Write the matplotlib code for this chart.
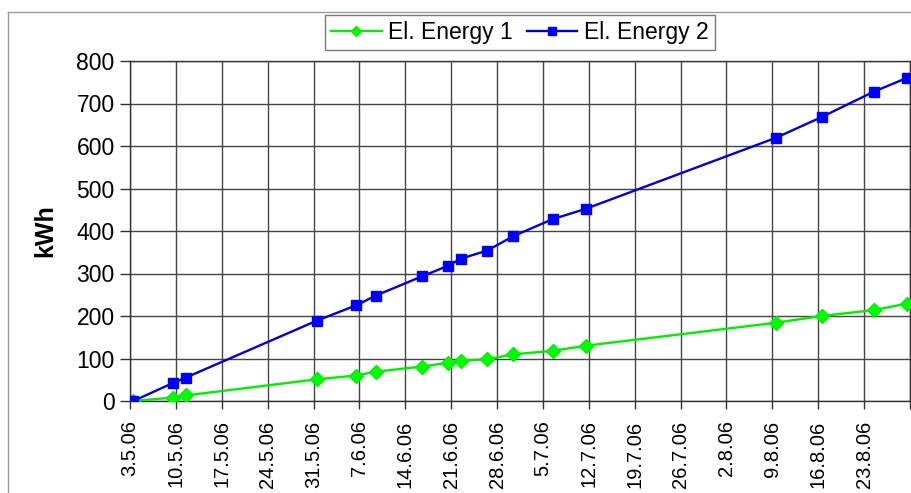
import pandas as pd
import matplotlib
matplotlib.use("Agg")
import matplotlib.pyplot as plt
import matplotlib.dates as mdates
from matplotlib.lines import Line2D
from matplotlib.ticker import FuncFormatter

plt.rcParams['font.family'] = ['Liberation Sans', 'DejaVu Sans']

# reading dates (d.m.yy)
dates = ["3.5.06", "9.5.06", "11.5.06", "31.5.06", "6.6.06", "9.6.06",
         "16.6.06", "20.6.06", "22.6.06", "26.6.06", "30.6.06", "6.7.06",
         "11.7.06", "9.8.06", "16.8.06", "24.8.06", "29.8.06"]
energy_1 = [0, 8, 13, 51, 60, 69, 81, 90, 95, 98, 110, 118, 130,
            184, 200, 214, 229]
energy_2 = [0, 42, 55, 189, 225, 248, 293, 318, 335, 354, 388, 428, 452,
            619, 668, 728, 760]

x_start = "3.5.06"
x_end = "30.8.06"

t = pd.to_datetime(dates, format="%d.%m.%y")
# Excel date axis puts points in the middle of each day
t = t + pd.Timedelta(hours=12)

fig = plt.figure(figsize=(9.12, 4.93), dpi=100)
ax = fig.add_axes([130 / 912, 1 - 401 / 493, 780 / 912, 340 / 493])

ax.plot(t, energy_1, color='#00EE00', lw=1.7, marker='D', ms=7,
        mec='#00EE00', mfc='#00FF00', label='El. Energy 1', zorder=3)
ax.plot(t, energy_2, color='#0000DD', lw=1.7, marker='s', ms=7.5,
        mec='#0000FF', mfc='#0000FF', label='El. Energy 2', zorder=4)

t0 = pd.to_datetime(x_start, format="%d.%m.%y")
t1 = pd.to_datetime(x_end, format="%d.%m.%y")
ax.set_xlim(t0, t1)
ax.set_ylim(0, 800)
ax.set_yticks(range(0, 801, 100))

ticks = pd.date_range(t0, t1, freq='7D')
ax.set_xticks(ticks)


def fmt(x, pos):
    d = mdates.num2date(x)
    if d.date() >= t1.date():
        return ""
    return f"{d.day}.{d.month}.{d.strftime('%y')}"


ax.xaxis.set_major_formatter(FuncFormatter(fmt))
ax.tick_params(axis='x', labelrotation=90, labelsize=14.5, length=6,
               width=1, color='#333333', pad=8)
ax.tick_params(axis='y', labelsize=16.5, length=7, width=1, color='#333333', pad=4)

ax.grid(True, color='#444444', lw=1)
ax.set_axisbelow(True)
for s in ax.spines.values():
    s.set_color('#333333')
    s.set_linewidth(1)

ax.set_ylabel('kWh', fontsize=18, fontweight='bold', labelpad=14)

leg = fig.legend(loc='center', bbox_to_anchor=(520 / 912, 1 - 32.5 / 493), ncol=2,
                 fontsize=16.5, frameon=True, fancybox=False, edgecolor='#555555',
                 handlelength=2.2, handletextpad=0.3, columnspacing=0.6,
                 borderpad=0.25, markerscale=0.7)
leg.get_frame().set_linewidth(1)

# outer chart border
fig.add_artist(Line2D([8 / 912, 8 / 912], [0, 1 - 12 / 493], transform=fig.transFigure,
                      color='#999999', lw=1))
fig.add_artist(Line2D([8 / 912, 1], [1 - 12 / 493, 1 - 12 / 493], transform=fig.transFigure,
                      color='#999999', lw=1))

fig.savefig('out.png', dpi=100)
